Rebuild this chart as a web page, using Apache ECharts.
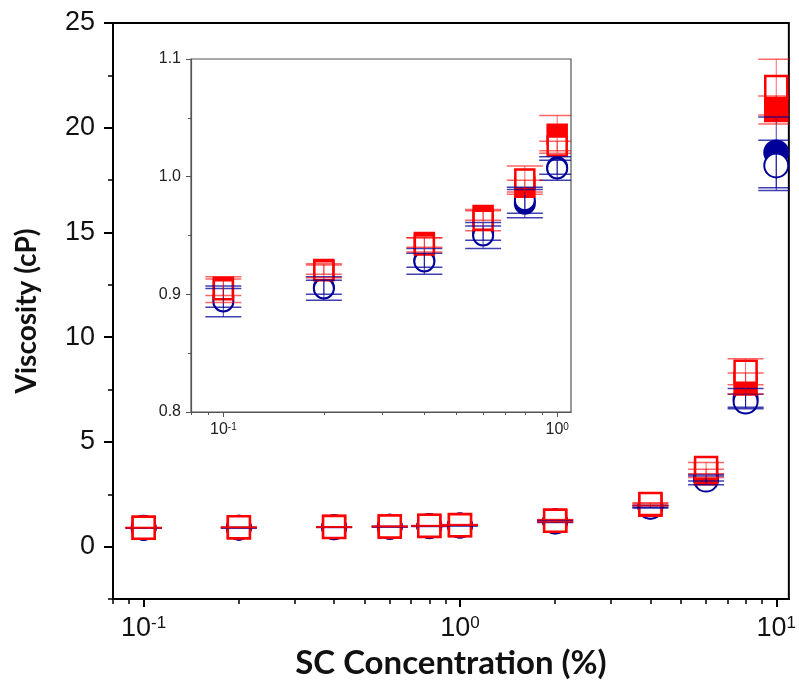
<!DOCTYPE html>
<html lang="en">
<head>
    <meta charset="UTF-8">
    <title>SC viscosity</title>
    <script src="https://cdn.jsdelivr.net/npm/echarts@6/dist/echarts.min.js"></script>
</head>
<body style="margin:0;background:#fff;">

<div id="main" style="width:799px;height:688px;"></div>

<script type="text/javascript">
    // concentrations (%) and viscosities (cP)
    var conc = [0.1, 0.2, 0.4, 0.6, 0.8, 1, 2, 4, 6, 8, 10];
    var redOpen = [0.904, 0.920, 0.942, 0.963, 0.998, 1.026, 1.24, 2.03, 3.75, 8.35, 21.94];
    var redOpenErr = [0.011, 0.006, 0.006, 0.009, 0.011, 0.004, 0.05, 0.06, 0.27, 0.62, 1.33];
    var redFill = [0.906, 0.921, 0.944, 0.967, 0.991, 1.036, 1.23, 2.0, 3.5, 7.79, 20.85];
    var redFillErr = [0.007, 0.004, 0.004, 0.004, 0.006, 0.016, 0.05, 0.06, 0.2, 0.5, 0.67];
    var blueOpen = [0.894, 0.905, 0.928, 0.950, 0.980, 1.007, 1.2, 1.9, 3.2, 6.93, 18.2];
    var blueOpenErr = [0.013, 0.010, 0.011, 0.011, 0.011, 0.010, 0.05, 0.05, 0.24, 0.35, 1.2];
    var blueFill = [0.897, 0.906, 0.929, 0.952, 0.977, 1.008, 1.21, 1.92, 3.25, 7.1, 18.82];
    var blueFillErr = [0.008, 0.006, 0.006, 0.006, 0.012, 0.006, 0.05, 0.05, 0.12, 0.45, 1.69];

    // the inset only shows the points up to 1 %
    var insetCount = 6;

    var mainMajorX = [0.1, 1, 10];
    var mainMinorX = [0.08, 0.09, 0.2, 0.3, 0.4, 0.5, 0.6, 0.7, 0.8, 0.9, 2, 3, 4, 5, 6, 7, 8, 9];
    var mainMajorY = [0, 5, 10, 15, 20, 25];
    var mainMinorY = [-2.5, 2.5, 7.5, 12.5, 17.5, 22.5];
    var insetMajorX = [0.1, 1];
    var insetMinorX = [0.08, 0.09, 0.2, 0.3, 0.4, 0.5, 0.6, 0.7, 0.8, 0.9];

    var RED = '#ff0000';
    var BLUE = '#000099';

    function pts(ys, n) {
        var out = [];
        for (var i = 0; i < n; i++) out.push([conc[i], ys[i]]);
        return out;
    }
    function errPts(ys, es, n) {
        var out = [];
        for (var i = 0; i < n; i++) out.push([conc[i], ys[i], es[i]]);
        return out;
    }

    function errRender(color) {
        return function (params, api) {
            var x = api.value(0), y = api.value(1), e = api.value(2);
            var t = api.coord([x, y + e]);
            var b = api.coord([x, y - e]);
            var hw = 18;
            return {
                type: 'group',
                children: [
                    {type: 'line', shape: {x1: t[0], y1: t[1], x2: b[0], y2: b[1]}, style: {stroke: color, lineWidth: 1}},
                    {type: 'line', shape: {x1: t[0] - hw, y1: t[1], x2: t[0] + hw, y2: t[1]}, style: {stroke: color, lineWidth: 1.5}},
                    {type: 'line', shape: {x1: b[0] - hw, y1: b[1], x2: b[0] + hw, y2: b[1]}, style: {stroke: color, lineWidth: 1.5}}
                ]
            };
        };
    }

    function powLabel(v) {
        var e = Math.round(Math.log10(v));
        return '{n|10}{e|' + e + '}';
    }

    function seriesFor(xi, yi, n, sq, ci) {
        return [
            {type: 'scatter', xAxisIndex: xi, yAxisIndex: yi, z: 2, symbol: 'circle', symbolSize: ci,
                itemStyle: {color: BLUE, borderColor: BLUE, borderWidth: 2, opacity: 1}, data: pts(blueFill, n), silent: true},
            {type: 'scatter', xAxisIndex: xi, yAxisIndex: yi, z: 3, symbol: 'circle', symbolSize: ci,
                itemStyle: {color: '#fff', borderColor: BLUE, borderWidth: 2, opacity: 1}, data: pts(blueOpen, n), silent: true},
            {type: 'scatter', xAxisIndex: xi, yAxisIndex: yi, z: 4, symbol: 'rect', symbolSize: sq,
                itemStyle: {color: RED, borderColor: RED, borderWidth: 2.5, opacity: 1}, data: pts(redFill, n), silent: true},
            {type: 'scatter', xAxisIndex: xi, yAxisIndex: yi, z: 5, symbol: 'rect', symbolSize: sq,
                itemStyle: {color: '#fff', borderColor: RED, borderWidth: 2.5, opacity: 1}, data: pts(redOpen, n), silent: true},
            {type: 'custom', xAxisIndex: xi, yAxisIndex: yi, z: 6, clip: true, silent: true,
                renderItem: errRender('rgba(0,0,153,0.75)'), data: errPts(blueFill, blueFillErr, n)},
            {type: 'custom', xAxisIndex: xi, yAxisIndex: yi, z: 6, clip: true, silent: true,
                renderItem: errRender('rgba(0,0,153,0.75)'), data: errPts(blueOpen, blueOpenErr, n)},
            {type: 'custom', xAxisIndex: xi, yAxisIndex: yi, z: 7, clip: true, silent: true,
                renderItem: errRender('rgba(255,0,0,0.6)'), data: errPts(redFill, redFillErr, n)},
            {type: 'custom', xAxisIndex: xi, yAxisIndex: yi, z: 7, clip: true, silent: true,
                renderItem: errRender('rgba(255,0,0,0.6)'), data: errPts(redOpen, redOpenErr, n)}
        ];
    }

    var myChart = echarts.init(document.getElementById('main'), null, {renderer: 'canvas'});

    var option = {
        animation: false,
        backgroundColor: '#fff',
        grid: [
            {left: 113, top: 23, width: 678, height: 576, show: true, borderColor: '#000', borderWidth: 2, backgroundColor: 'transparent'},
            {left: 191, top: 59, width: 380, height: 353, show: true, borderColor: '#555', borderWidth: 1.2, backgroundColor: 'transparent'}
        ],
        xAxis: [
            {
                type: 'log', gridIndex: 0, position: 'bottom', min: 0.08, max: 10.96,
                name: 'SC Concentration (%)', nameLocation: 'middle', nameGap: 46,
                nameTextStyle: {fontFamily: 'Lato', fontWeight: 'bold', fontSize: 33, color: '#111'},
                axisLine: {onZero: false, lineStyle: {color: '#000', width: 2}},
                axisTick: {inside: false, length: 8, lineStyle: {color: '#000', width: 2}, customValues: mainMajorX},
                axisLabel: {margin: 16, customValues: mainMajorX, formatter: powLabel,
                    rich: {n: {fontFamily: 'Liberation Sans', fontSize: 27, color: '#111'},
                        e: {fontFamily: 'Liberation Sans', fontSize: 17, color: '#111', verticalAlign: 'top'}}},
                splitLine: {show: false}
            },
            {
                type: 'log', gridIndex: 0, position: 'bottom', min: 0.08, max: 10.96,
                axisLine: {show: false, onZero: false},
                axisTick: {inside: false, length: 5, lineStyle: {color: '#000', width: 1.5}, customValues: mainMinorX},
                axisLabel: {show: false},
                splitLine: {show: false}
            },
            {
                type: 'log', gridIndex: 1, position: 'bottom', min: 0.08, max: 1.1,
                axisLine: {onZero: false, lineStyle: {color: '#555', width: 1.2}},
                axisTick: {inside: false, length: 5, lineStyle: {color: '#555', width: 1}, customValues: insetMajorX},
                axisLabel: {margin: 10, customValues: insetMajorX, formatter: powLabel,
                    rich: {n: {fontFamily: 'Liberation Sans', fontSize: 16, color: '#222'},
                        e: {fontFamily: 'Liberation Sans', fontSize: 10, color: '#222', verticalAlign: 'top'}}},
                splitLine: {show: false}
            },
            {
                type: 'log', gridIndex: 1, position: 'bottom', min: 0.08, max: 1.1,
                axisLine: {show: false, onZero: false},
                axisTick: {inside: false, length: 3, lineStyle: {color: '#555', width: 1}, customValues: insetMinorX},
                axisLabel: {show: false},
                splitLine: {show: false}
            }
        ],
        yAxis: [
            {
                type: 'value', gridIndex: 0, position: 'left', min: -2.5, max: 25,
                name: 'Viscosity (cP)', nameLocation: 'middle', nameGap: 72, nameRotate: 90,
                nameTextStyle: {fontFamily: 'Lato', fontWeight: 'bold', fontSize: 28, color: '#111'},
                axisLine: {onZero: false, lineStyle: {color: '#000', width: 2}},
                axisTick: {inside: false, length: 9, lineStyle: {color: '#000', width: 2}, customValues: mainMajorY},
                axisLabel: {margin: 18, customValues: mainMajorY, fontFamily: 'Liberation Sans', fontSize: 27, color: '#111'},
                splitLine: {show: false}
            },
            {
                type: 'value', gridIndex: 0, position: 'left', min: -2.5, max: 25,
                axisLine: {show: false, onZero: false},
                axisTick: {inside: false, length: 5, lineStyle: {color: '#000', width: 1.5}, customValues: mainMinorY},
                axisLabel: {show: false},
                splitLine: {show: false}
            },
            {
                type: 'value', gridIndex: 1, position: 'left', min: 0.8, max: 1.1, interval: 0.1,
                axisLine: {onZero: false, lineStyle: {color: '#555', width: 1.2}},
                axisTick: {inside: false, length: 5, lineStyle: {color: '#555', width: 1}},
                minorTick: {show: true, splitNumber: 2, length: 3, lineStyle: {color: '#555', width: 1}},
                axisLabel: {margin: 10, fontFamily: 'Liberation Sans', fontSize: 16, color: '#222',
                    formatter: function (v) { return v.toFixed(1); }},
                splitLine: {show: false}
            }
        ],
        series: seriesFor(0, 0, conc.length, 22, 24).concat(seriesFor(2, 2, insetCount, 19, 20))
    };

    myChart.setOption(option);
</script>

</body>
</html>
